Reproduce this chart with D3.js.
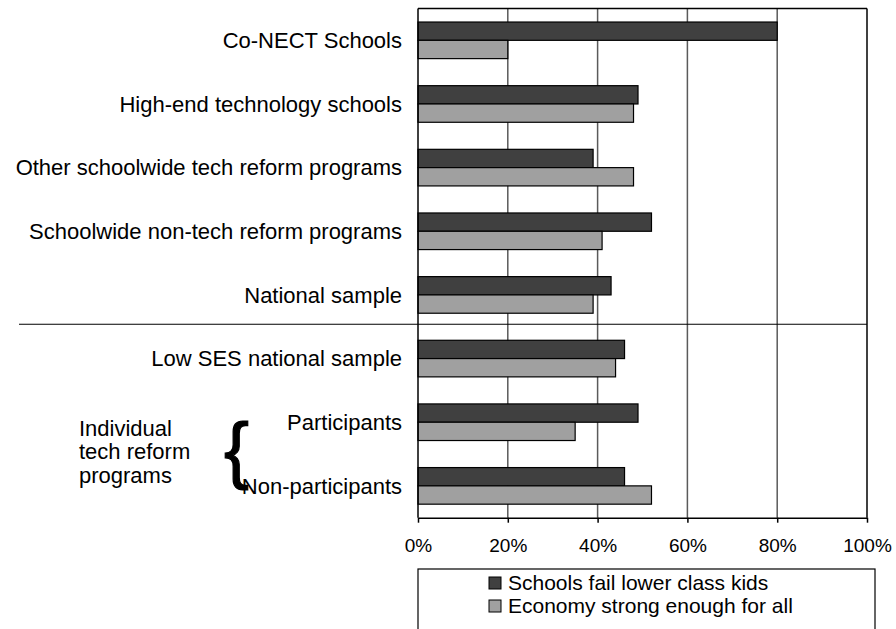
<!DOCTYPE html>
<html>
<head>
<meta charset="utf-8">
<script src="https://cdn.jsdelivr.net/npm/d3@7"></script>
<style>
  html, body { margin: 0; padding: 0; background: #fff; }
  svg { display: block; font-family: "Liberation Sans", Arial, sans-serif; }
</style>
</head>
<body>
<svg id="chart" width="896" height="629"></svg>
<script>
// Survey groups, top to bottom
const categories = [
  "Co-NECT Schools",
  "High-end technology schools",
  "Other schoolwide tech reform programs",
  "Schoolwide non-tech reform programs",
  "National sample",
  "Low SES national sample",
  "Participants",
  "Non-participants"
];
// Percent agreeing with each statement
const schoolsFail = [80, 49, 39, 52, 43, 46, 49, 46];
const economyStrong = [20, 48, 48, 41, 39, 44, 35, 52];
const seriesNames = ["Schools fail lower class kids", "Economy strong enough for all"];
const tickValues = [0, 20, 40, 60, 80, 100];
const groupLabelLines = ["Individual", "tech reform", "programs"];

const seriesColors = ["#404040", "#a0a0a0"];

const svg = d3.select("#chart");
const plot = { left: 418, right: 867, top: 8.5, bottom: 517.7 };

const x = d3.scaleLinear().domain([0, 100]).range([plot.left, plot.right]);
const y = d3.scaleBand()
  .domain(categories)
  .range([plot.top, plot.bottom])
  .paddingInner(0.425)
  .paddingOuter(0.2125);
const ySeries = d3.scaleBand().domain([0, 1]).range([0, y.bandwidth()]);

const rows = categories.map((c, i) => ({ cat: c, values: [schoolsFail[i], economyStrong[i]] }));

// Vertical gridlines
svg.append("g")
  .selectAll("line")
  .data(tickValues.filter(t => t > 0 && t < 100))
  .join("line")
  .attr("x1", d => x(d)).attr("x2", d => x(d))
  .attr("y1", plot.top).attr("y2", plot.bottom)
  .attr("stroke", "#5a5a5a").attr("stroke-width", 1.5);

// Bars
const groups = svg.append("g")
  .selectAll("g")
  .data(rows)
  .join("g")
  .attr("transform", d => `translate(0,${y(d.cat)})`);

groups.selectAll("rect")
  .data(d => d.values.map((v, k) => ({ v, k })))
  .join("rect")
  .attr("x", x(0))
  .attr("y", d => ySeries(d.k))
  .attr("width", d => x(d.v) - x(0))
  .attr("height", ySeries.bandwidth())
  .attr("fill", d => seriesColors[d.k])
  .attr("stroke", "#000")
  .attr("stroke-width", 1.2);

// Plot frame: top and right edges
svg.append("line")
  .attr("x1", x(0)).attr("x2", x(100))
  .attr("y1", plot.top).attr("y2", plot.top)
  .attr("stroke", "#000").attr("stroke-width", 1.5);
svg.append("line")
  .attr("x1", x(100)).attr("x2", x(100))
  .attr("y1", plot.top).attr("y2", plot.bottom)
  .attr("stroke", "#000").attr("stroke-width", 1.5);

// Left axis line
svg.append("line")
  .attr("x1", x(0)).attr("x2", x(0))
  .attr("y1", plot.top).attr("y2", plot.bottom)
  .attr("stroke", "#000").attr("stroke-width", 1.5);

// Bottom axis
const xAxis = d3.axisBottom(x)
  .tickValues(tickValues)
  .tickFormat(d => d + "%")
  .tickSize(5)
  .tickPadding(15.5)
  .tickSizeOuter(0);
const gx = svg.append("g")
  .attr("transform", `translate(0,${plot.bottom})`)
  .call(xAxis);
gx.select(".domain").attr("stroke", "#000").attr("stroke-width", 1.5);
gx.selectAll(".tick line").attr("stroke", "#000").attr("stroke-width", 1.5);
gx.selectAll(".tick text")
  .attr("fill", "#000")
  .style("font-family", "'Liberation Sans', Arial, sans-serif")
  .style("font-size", "19px");

// Category labels
svg.append("g")
  .selectAll("text")
  .data(categories)
  .join("text")
  .attr("x", plot.left - 16)
  .attr("y", d => y(d) + y.bandwidth() / 2)
  .attr("dy", "0.35em")
  .attr("text-anchor", "end")
  .attr("font-size", 22)
  .attr("fill", "#000")
  .text(d => d);

// Separator between school-level and individual-level groups
const sepY = y(categories[5]) - (y.step() - y.bandwidth()) / 2 - 2.5;
svg.append("line")
  .attr("x1", 19).attr("x2", plot.right)
  .attr("y1", sepY).attr("y2", sepY)
  .attr("stroke", "#000").attr("stroke-width", 1.2);

// Grouping note with brace
const midLast = (y(categories[6]) + y(categories[7]) + y.bandwidth()) / 2;
svg.append("text")
  .attr("x", 79)
  .attr("font-size", 22)
  .attr("fill", "#000")
  .selectAll("tspan")
  .data(groupLabelLines)
  .join("tspan")
  .attr("x", 79)
  .attr("y", (d, i) => midLast - 26 + i * 23.5)
  .attr("dy", "0.35em")
  .text(d => d);

svg.append("text")
  .attr("x", 224)
  .attr("y", midLast + 21)
  .attr("font-size", 75)
  .attr("fill", "#000")
  .attr("stroke", "#000")
  .attr("stroke-width", 1.2)
  .text("{");

// Legend
const legend = svg.append("g");
legend.append("rect")
  .attr("x", 418).attr("y", 569)
  .attr("width", 457).attr("height", 80)
  .attr("fill", "#fff")
  .attr("stroke", "#000").attr("stroke-width", 1.2);
const items = legend.selectAll("g.item")
  .data(seriesNames)
  .join("g")
  .attr("class", "item")
  .attr("transform", (d, i) => `translate(489,${583 + i * 23})`);
items.append("rect")
  .attr("x", 0).attr("y", -6)
  .attr("width", 12).attr("height", 12)
  .attr("fill", (d, i) => seriesColors[i])
  .attr("stroke", "#000").attr("stroke-width", 1);
items.append("text")
  .attr("x", 19)
  .attr("dy", "0.35em")
  .attr("font-size", 21)
  .attr("fill", "#000")
  .text(d => d);
</script>
</body>
</html>
